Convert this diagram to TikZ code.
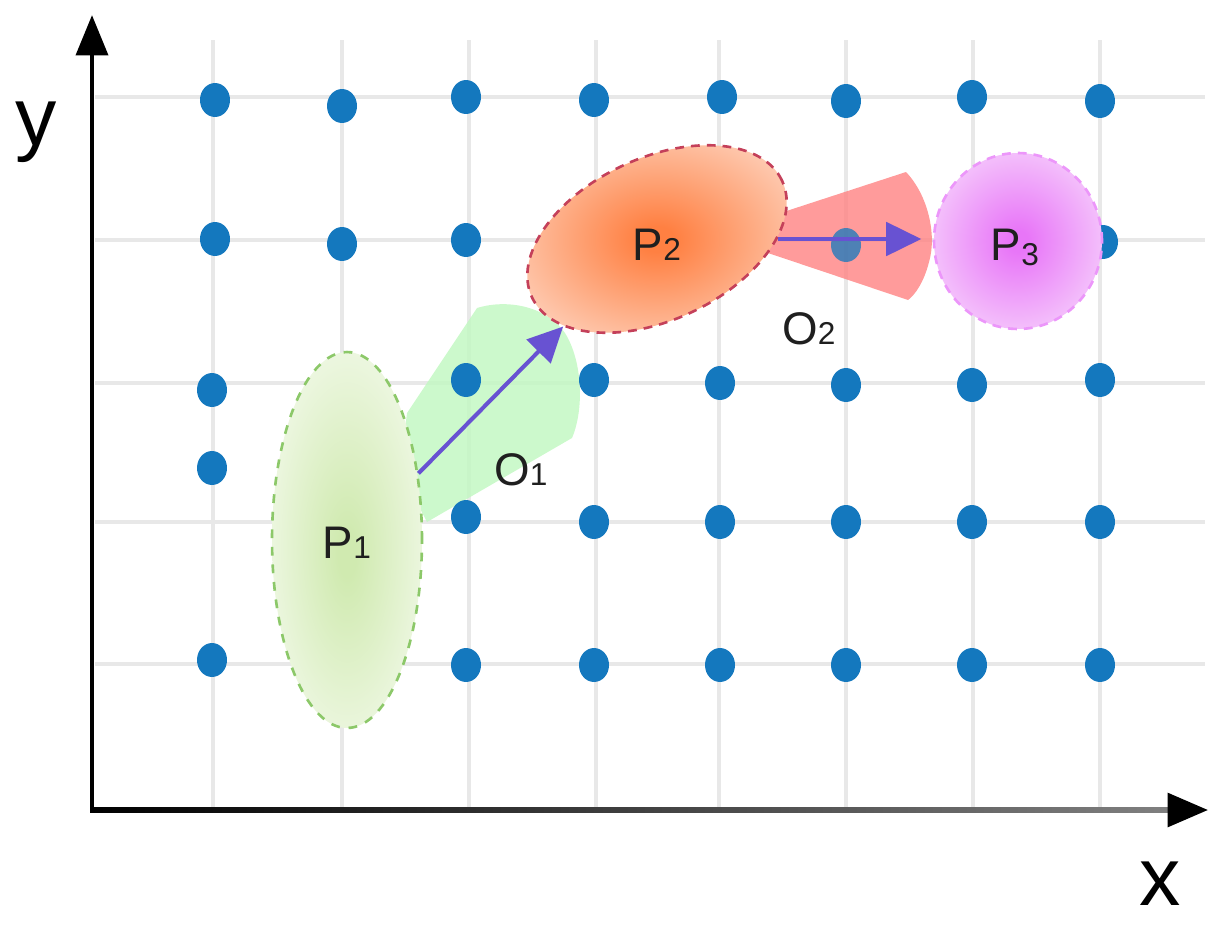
\documentclass[tikz,border=0pt]{standalone}
\usepackage{fontspec}
\setmainfont{Liberation Sans}
\usetikzlibrary{shapes.geometric,arrows.meta}
\definecolor{dotblue}{RGB}{20,120,190}
\definecolor{gridc}{RGB}{232,232,232}
\definecolor{vecc}{RGB}{104,82,210}
\definecolor{greenfan}{RGB}{195,248,195}
\definecolor{redfan}{RGB}{255,130,130}
\definecolor{ponein}{RGB}{208,234,176}
\definecolor{poneout}{RGB}{246,251,240}
\definecolor{ponedraw}{RGB}{140,200,105}
\definecolor{ptwoin}{RGB}{255,128,66}
\definecolor{ptwoout}{RGB}{253,224,210}
\definecolor{ptwodraw}{RGB}{196,64,90}
\definecolor{pthreein}{RGB}{232,118,248}
\definecolor{pthreeout}{RGB}{248,220,252}
\definecolor{pthreedraw}{RGB}{236,150,250}
\pgfdeclareradialshading{oneshade}{\pgfpoint{0bp}{-2bp}}{color(0bp)=(ponein); color(3bp)=(ponein); color(34bp)=(poneout); color(50bp)=(poneout)}
\pgfdeclareradialshading{twoshade}{\pgfpoint{0bp}{0bp}}{color(0bp)=(ptwoin); color(3bp)=(ptwoin); color(34bp)=(ptwoout); color(50bp)=(ptwoout)}
\pgfdeclareradialshading{threeshade}{\pgfpoint{0bp}{0bp}}{color(0bp)=(pthreein); color(3bp)=(pthreein); color(34bp)=(pthreeout); color(50bp)=(pthreeout)}
\newcommand\lsub[1]{{\fontsize{18}{18}\selectfont #1}}
\begin{document}
\begin{tikzpicture}[x=0.02cm,y=-0.02cm,
  gridline/.style={draw=gridc, line width=2.6pt},
  dot/.style={ellipse, fill=dotblue, minimum width=0.6cm, minimum height=0.68cm, inner sep=0pt},
  blob/.style={ellipse, inner sep=0pt, line width=1.5pt},
  vec/.style={draw=vecc, line width=2.3pt, -{Triangle[length=20pt,width=19pt]}},
  lab/.style={inner sep=0pt, anchor=base, text=black!88, font=\fontsize{26}{26}\selectfont},
  axlab/.style={inner sep=0pt, anchor=base, text=black, font=\fontsize{47}{47}\selectfont}]
\useasboundingbox (0,0) rectangle (1231,930);
% grid
\foreach \yy in {97,240,383,522,664} \draw[gridline] (95,\yy) -- (1205,\yy);
\foreach \xx in {213,342,469,596,719,846,973,1100} \draw[gridline] (\xx,40) -- (\xx,808);
% fans
\fill[greenfan, opacity=0.85] (400,470) -- (407,413) -- (477,308)
  .. controls (510,298) and (548,308) .. (565,333)
  .. controls (583,362) and (584,410) .. (572,438)
  -- (427,522) -- cycle;
\fill[redfan, opacity=0.8] (765,218) -- (906,172)
  .. controls (928,195) and (937,235) .. (929,262)
  .. controls (924,282) and (915,295) .. (908,300)
  -- (765,252) -- cycle;
% dots
\foreach \px/\py [count=\i] in {215/100,342/106,466/97,594/100,722/97,846/101,972/97,1100/101,
  215/239,342/244,466/240,1103/242,
  212/390,466/380,594/380,720/383,846/385,972/385,1100/380,
  212/468,
  466/517,594/522,720/522,846/522,972/522,1100/522,
  212/660,466/665,594/665,720/665,846/665,972/665,1100/665}
  \node[dot] (d\i) at (\px,\py) {};
\node[dot, opacity=0.75] (dred) at (846,245) {};
% axes
\coordinate (orig) at (92,810);
\coordinate (ytip) at (92,15);
\coordinate (xend) at (1170,810);
\coordinate (xtip) at (1208,810);
\shade[left color=black, right color=black!50] (90,807.2) rectangle (1170,812.8);
\draw[line width=2.8pt, draw=black!50, -{Triangle[length=23pt,width=19pt,color=black]}] (xend) -- (xtip);
\draw[line width=2.8pt, -{Triangle[length=23pt,width=18pt]}] ([yshift=-1.4pt]orig) -- (ytip);
\node[axlab] (xl) at (1160,905) {x};
\node[axlab] (yl) at (36,145) {y};
% blobs
\node[blob, minimum width=3cm, minimum height=7.52cm, shade, shading=oneshade,
  draw=ponedraw, dash pattern=on 5pt off 5pt] (P1) at (347,540) {};
\node[blob, rotate=25, minimum width=5.52cm, minimum height=3.24cm, shade, shading=twoshade,
  draw=ptwodraw, dash pattern=on 5pt off 4pt] (P2) at (657,239) {};
\node[blob, minimum width=3.36cm, minimum height=3.52cm, shade, shading=threeshade,
  draw=pthreedraw, dash pattern=on 5pt off 4pt] (P3) at (1018,241) {};
% vectors
\draw[vec] (P1.43) -- (P2.198);
\draw[vec, shorten >=6.5pt] (P2.-25) -- (P2.-25 -| P3.west);
% labels
\node[lab, anchor=center] (tP1) at (347,543) {P\lsub{1}};
\node[lab] (tP2) at (657,260) {P\lsub{2}};
\node[lab] (tP3) at (1015,260) {P\raisebox{-3pt}{\lsub{3}}};
\node[lab] (tO1) at (521,485) {O\lsub{1}};
\node[lab] (tO2) at (809,344) {O\lsub{2}};
\end{tikzpicture}
\end{document}
